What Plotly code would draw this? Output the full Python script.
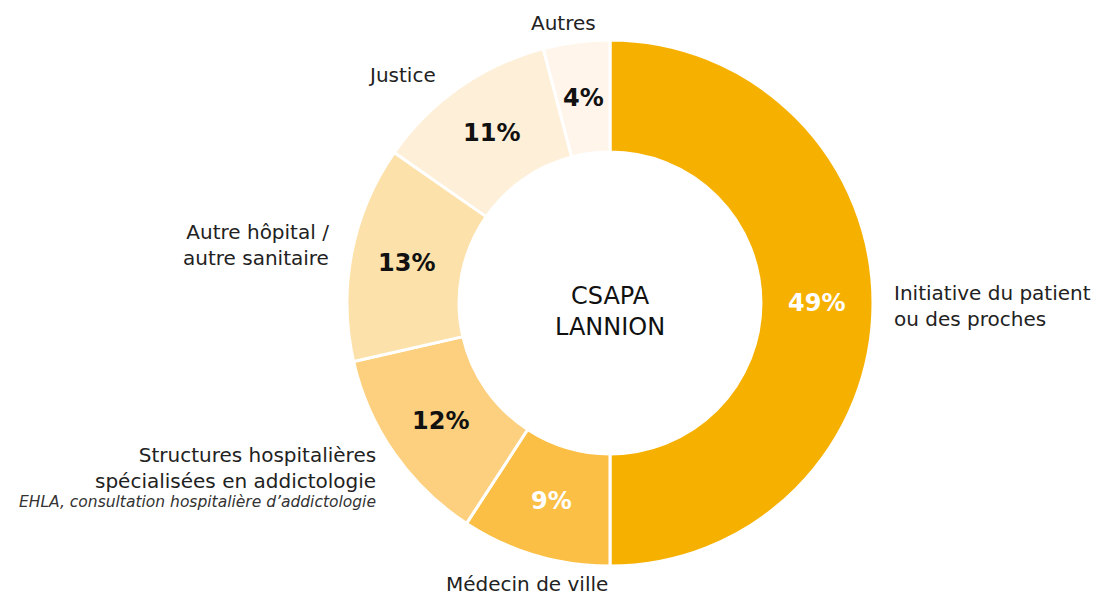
import math
import plotly.graph_objects as go

categories = ["Initiative du patient<br>ou des proches", "Médecin de ville",
              "Structures hospitalières spécialisées en addictologie",
              "Autre hôpital / autre sanitaire", "Justice", "Autres"]
values = [49, 9, 12, 13, 11, 4]
pct_labels = ["49%", "9%", "12%", "13%", "11%", "4%"]
colors = ["#F6B000", "#FBBF45", "#FDD07F", "#FDE1AA", "#FEEFD8", "#FFF5EA"]
text_colors = ["white", "white", "#111111", "#111111", "#111111", "#111111"]
center_title = "CSAPA<br>LANNION"

W, H = 1113, 598
FONT = "DejaVu Sans, sans-serif"
# pie geometry (pixels)
CX, CY, R_OUT, HOLE = 610, 303, 263, 0.574

fig = go.Figure(go.Pie(
    labels=categories, values=values,
    textinfo="none",
    sort=False, direction="clockwise", rotation=0, hole=HOLE,
    marker=dict(colors=colors, line=dict(color="white", width=3)),
    showlegend=False, hoverinfo="label+percent",
    domain=dict(x=[(CX - R_OUT) / W, (CX + R_OUT) / W],
                y=[1 - (CY + R_OUT) / H, 1 - (CY - R_OUT) / H]),
))

def px(x, y):
    return x / W, 1 - y / H

anns = []
# percentage labels at the middle of each ring segment, derived from the values
total = sum(values)
r_mid = R_OUT * (1 + HOLE) / 2
cum = 0
for v, t, c in zip(values, pct_labels, text_colors):
    ang = (cum + v / 2) / total * 2 * math.pi
    cum += v
    ax, ay = px(CX + r_mid * math.sin(ang), CY - r_mid * math.cos(ang))
    anns.append(dict(x=ax, y=ay, xref="paper", yref="paper", text=f"<b>{t}</b>",
                     showarrow=False, xanchor="center", yanchor="middle",
                     font=dict(family=FONT, size=24, color=c)))

annots = [
    (563, 23, "Autres", "center"),
    (438, 75, "Justice", "right"),
    (331, 245, "Autre hôpital /<br>autre sanitaire", "right"),
    (892, 306, "Initiative du patient<br>ou des proches", "left"),
    (378, 468, "Structures hospitalières<br>spécialisées en addictologie", "right"),
    (527, 584, "Médecin de ville", "center"),
]
for x, y, t, a in annots:
    ax, ay = px(x, y)
    anns.append(dict(x=ax, y=ay, xref="paper", yref="paper", text=t, showarrow=False,
                     xanchor=a, yanchor="middle", align=a,
                     font=dict(family=FONT, size=20, color="#222222")))
ax, ay = px(378, 502)
anns.append(dict(x=ax, y=ay, xref="paper", yref="paper",
                 text="<i>EHLA, consultation hospitalière d’addictologie</i>",
                 showarrow=False, xanchor="right", yanchor="middle", align="right",
                 font=dict(family=FONT, size=15.5, color="#333333")))
ax, ay = px(610, 311)
anns.append(dict(x=ax, y=ay, xref="paper", yref="paper", text=center_title, showarrow=False,
                 xanchor="center", yanchor="middle", align="center",
                 font=dict(family=FONT, size=24, color="#111111")))

fig.update_layout(width=W, height=H, margin=dict(l=0, r=0, t=0, b=0),
                  paper_bgcolor="white", plot_bgcolor="white", annotations=anns)
fig.write_html("out.html", config={"displayModeBar": False},
               post_script="document.body.style.margin='0';")
